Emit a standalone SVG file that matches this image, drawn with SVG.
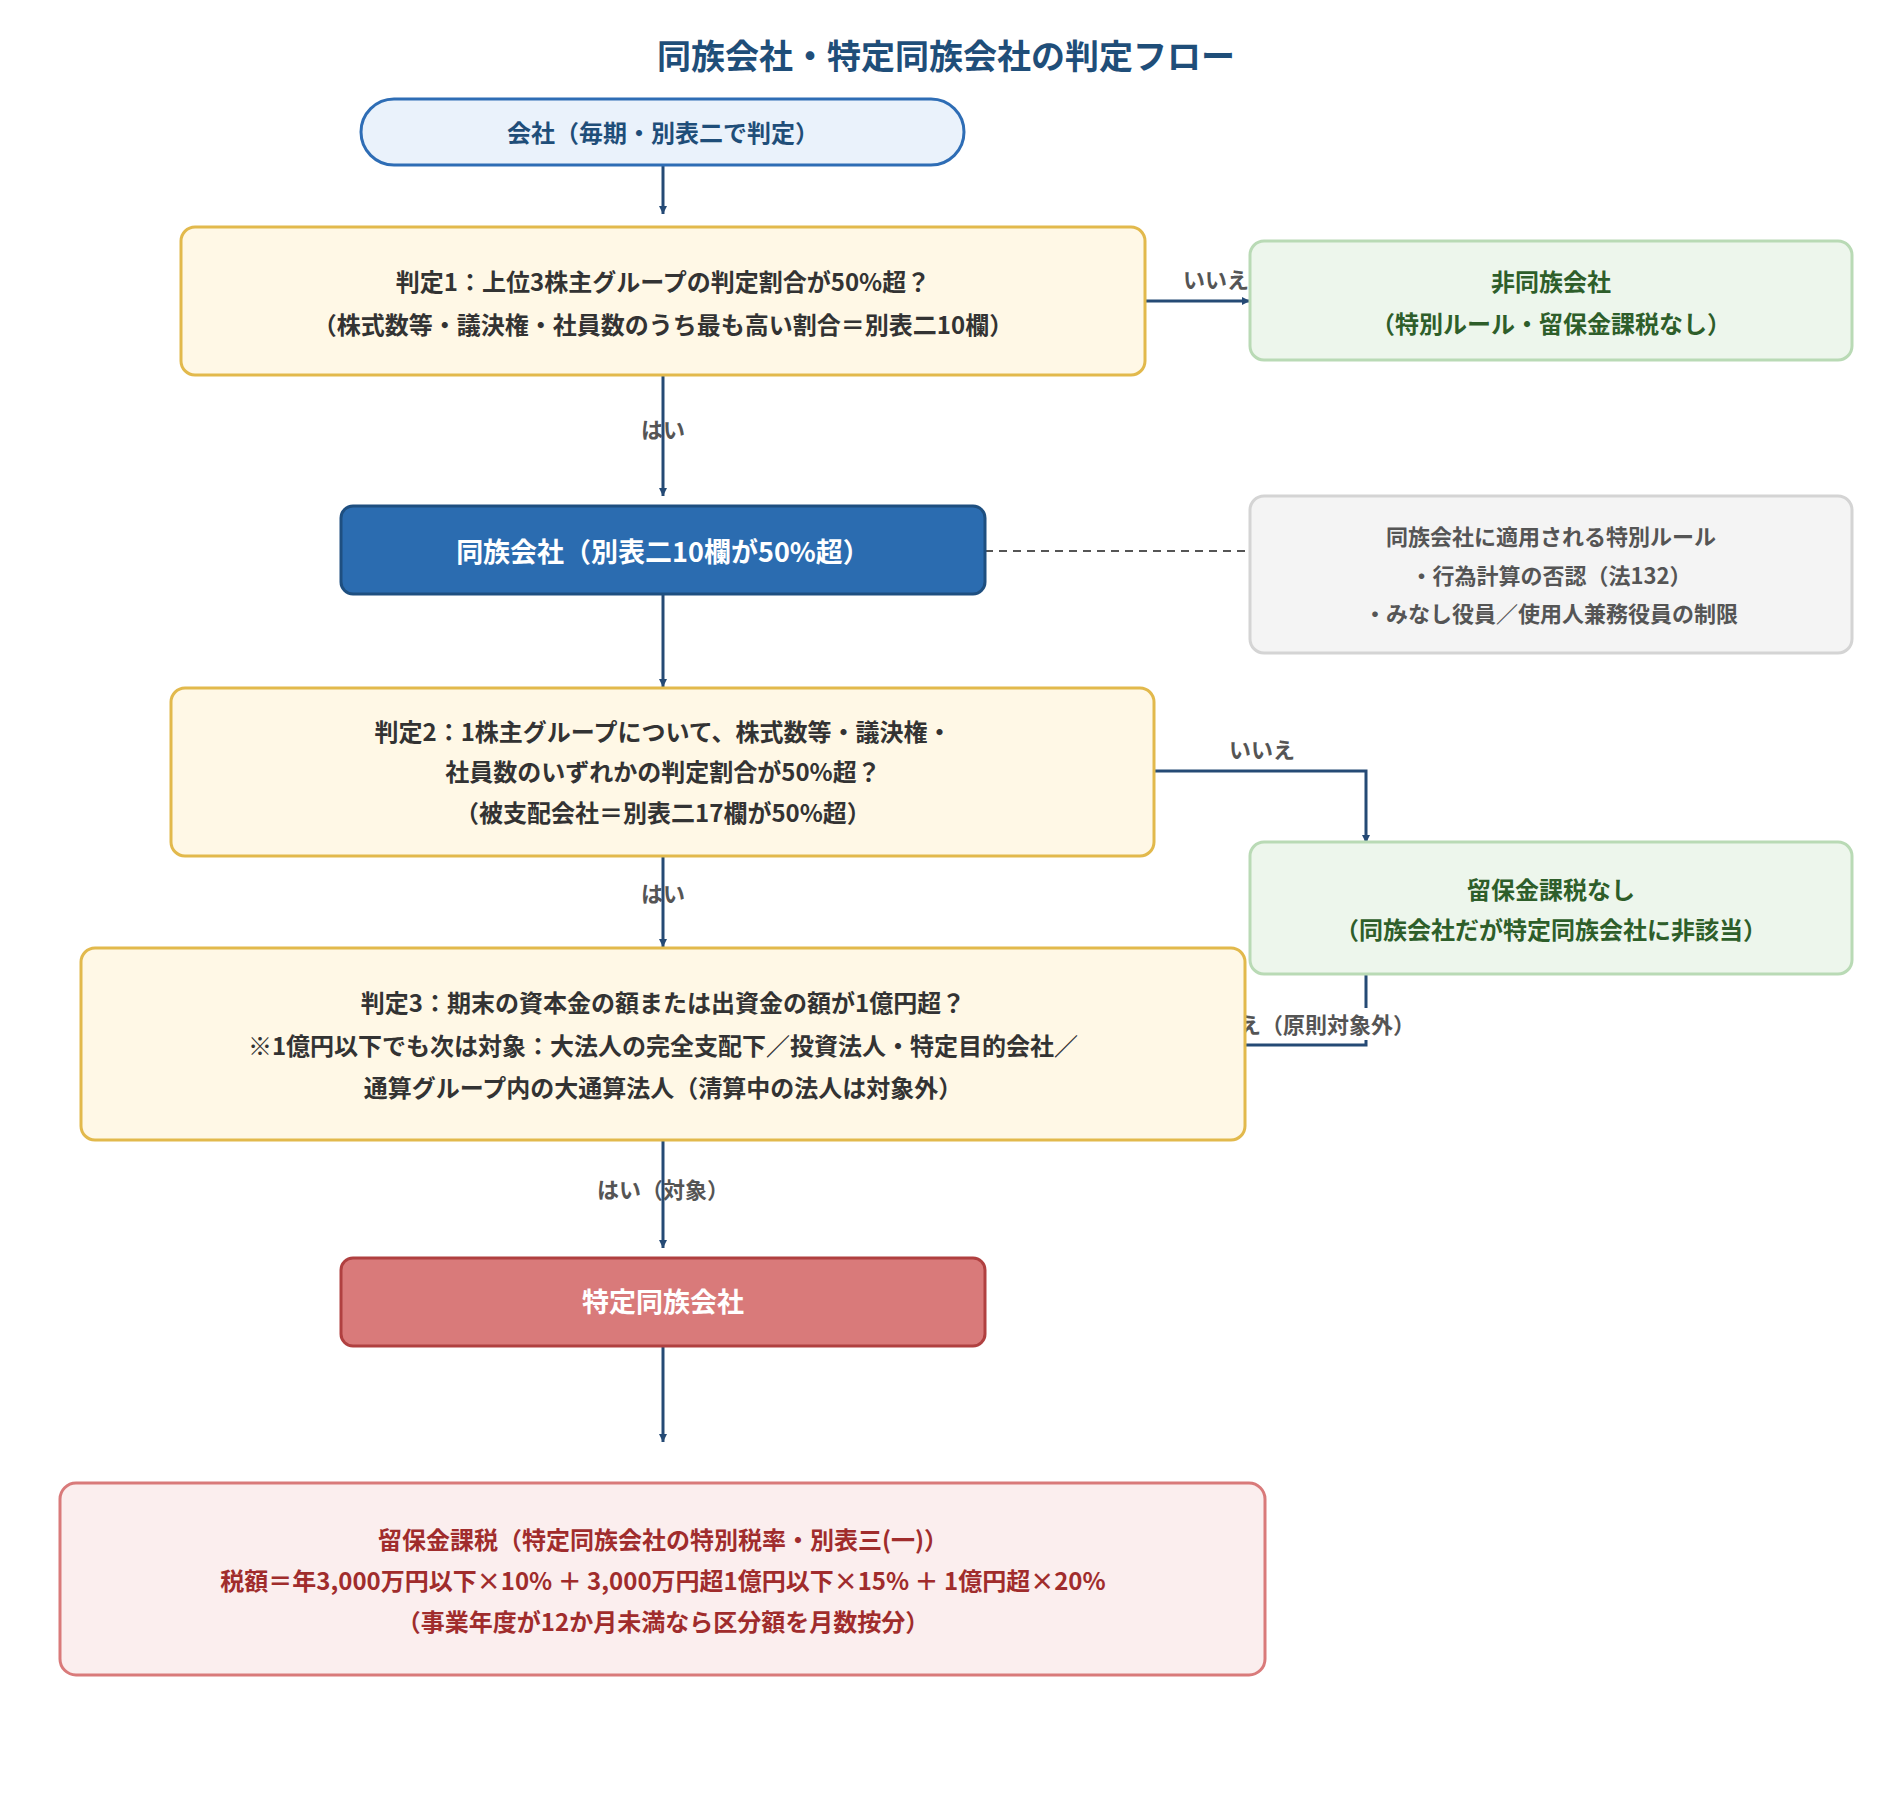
<svg xmlns="http://www.w3.org/2000/svg" width="1880" height="1800" viewBox="0 0 1880 1800">
<defs>
<marker id="ah" viewBox="0 0 10 10" refX="10" refY="5" markerWidth="8" markerHeight="8" markerUnits="userSpaceOnUse" orient="auto"><path d="M0,0 L10,5 L0,10 z" fill="#254a75"/></marker>
<style>
text{font-family:"Noto Sans CJK JP","Noto Sans",sans-serif;text-anchor:middle;font-weight:bold;dominant-baseline:central}
.c{stroke:#254a75;stroke-width:3;fill:none}
.y{fill:#fff8e6;stroke:#e2b94c;stroke-width:3}
.g{fill:#edf6ec;stroke:#b9dab5;stroke-width:3}
.t{font-size:24px;fill:#333}
.gt{font-size:24px;fill:#2e5e2a}
.lb{font-size:22px;fill:#555}
</style>
</defs>
<rect width="1880" height="1800" fill="#fff"/>
<text x="946" y="54" font-size="34" fill="#1f4e79">同族会社・特定同族会社の判定フロー</text>
<g id="connectors">
<path class="c" d="M663,165 V214" marker-end="url(#ah)"/>
<path class="c" d="M1145,301 H1250" marker-end="url(#ah)"/>
<path class="c" d="M663,375 V496" marker-end="url(#ah)"/>
<path d="M985,551 H1250" stroke="#555" stroke-width="2" stroke-dasharray="8,6" fill="none"/>
<path class="c" d="M663,594 V687" marker-end="url(#ah)"/>
<path class="c" d="M1154,771 H1366 V843" marker-end="url(#ah)"/>
<path class="c" d="M663,856 V947" marker-end="url(#ah)"/>
<path class="c" d="M1245,1045 H1366 V975"/>
<path d="M1355,957 L1377,957 L1366,971 z" fill="#254a75"/>
<path class="c" d="M663,1140 V1248" marker-end="url(#ah)"/>
<path class="c" d="M663,1346 V1442" marker-end="url(#ah)"/>
<rect x="1178" y="426" width="70" height="0" fill="#fff"/>
<text class="lb" x="1216" y="278">いいえ</text>
<text class="lb" x="663" y="428">はい</text>
<text class="lb" x="1262" y="748">いいえ</text>
<text class="lb" x="663" y="892">はい</text>
<rect x="1196" y="1008" width="218" height="32" fill="#fff"/>
<text class="lb" x="1305" y="1023" font-size="19">いいえ（原則対象外）</text>
<text class="lb" x="663" y="1188">はい（対象）</text>
</g>
<g id="start"><rect x="361" y="99" width="603" height="66" rx="33" fill="#eaf2fb" stroke="#2e6db5" stroke-width="3"/><text x="663" y="131" font-size="24" fill="#1f4e79">会社（毎期・別表二で判定）</text></g>
<g id="j1"><rect class="y" x="181" y="227" width="964" height="148" rx="14"/><text class="t" x="663" y="280">判定1：上位3株主グループの判定割合が50%超？</text><text class="t" x="663" y="323">（株式数等・議決権・社員数のうち最も高い割合＝別表二10欄）</text></g>
<g id="non"><rect class="g" x="1250" y="241" width="602" height="119" rx="14"/><text class="gt" x="1551" y="280">非同族会社</text><text class="gt" x="1551" y="322">（特別ルール・留保金課税なし）</text></g>
<g id="dozoku"><rect x="341" y="506" width="644" height="88" rx="12" fill="#2b6cb0" stroke="#1e4f80" stroke-width="3"/><text x="663" y="550" font-size="27" fill="#fff">同族会社（別表二10欄が50%超）</text></g>
<g id="note"><rect x="1250" y="496" width="602" height="157" rx="14" fill="#f4f4f4" stroke="#d4d4d4" stroke-width="3"/><text x="1551" y="535" font-size="22" font-weight="normal" fill="#555">同族会社に適用される特別ルール</text><text x="1551" y="574" font-size="22" font-weight="normal" fill="#555">・行為計算の否認（法132）</text><text x="1551" y="612" font-size="22" font-weight="normal" fill="#555">・みなし役員／使用人兼務役員の制限</text></g>
<g id="j2"><rect class="y" x="171" y="688" width="983" height="168" rx="14"/><text class="t" x="663" y="730">判定2：1株主グループについて、株式数等・議決権・</text><text class="t" x="663" y="770">社員数のいずれかの判定割合が50%超？</text><text class="t" x="663" y="811">（被支配会社＝別表二17欄が50%超）</text></g>
<g id="noretain"><rect class="g" x="1250" y="842" width="602" height="132" rx="14"/><text class="gt" x="1551" y="888">留保金課税なし</text><text class="gt" x="1551" y="928">（同族会社だが特定同族会社に非該当）</text></g>
<g id="j3"><rect class="y" x="81" y="948" width="1164" height="192" rx="14"/><text class="t" x="663" y="1001">判定3：期末の資本金の額または出資金の額が1億円超？</text><text class="t" x="663" y="1044">※1億円以下でも次は対象：大法人の完全支配下／投資法人・特定目的会社／</text><text class="t" x="663" y="1086">通算グループ内の大通算法人（清算中の法人は対象外）</text></g>
<g id="tokutei"><rect x="341" y="1258" width="644" height="88" rx="12" fill="#d97a7a" stroke="#b04040" stroke-width="3"/><text x="663" y="1300" font-size="27" fill="#fff">特定同族会社</text></g>
<g id="tax"><rect x="60" y="1483" width="1205" height="192" rx="16" fill="#fbeeee" stroke="#d97a7a" stroke-width="3"/><text x="663" y="1538" font-size="24" fill="#a02c2c">留保金課税（特定同族会社の特別税率・別表三(一)）</text><text x="663" y="1579" font-size="24" fill="#a02c2c">税額＝年3,000万円以下×10% ＋ 3,000万円超1億円以下×15% ＋ 1億円超×20%</text><text x="663" y="1620" font-size="24" fill="#a02c2c">（事業年度が12か月未満なら区分額を月数按分）</text></g>
</svg>
